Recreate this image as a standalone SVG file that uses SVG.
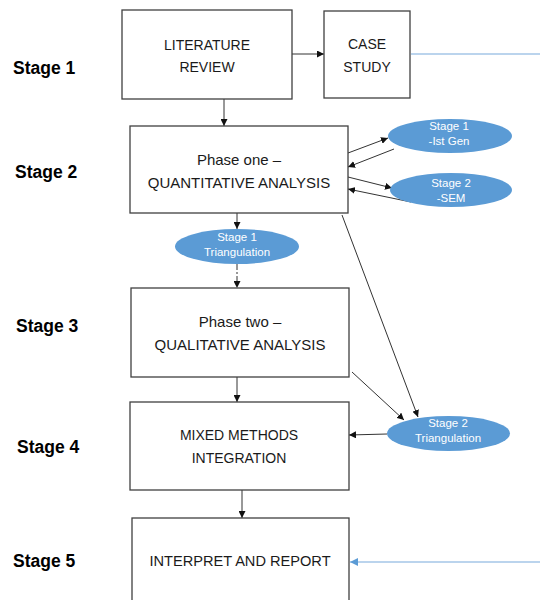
<svg xmlns="http://www.w3.org/2000/svg" width="540" height="600" viewBox="0 0 540 600">
  <defs>
    <marker id="arr" viewBox="0 0 10 10" refX="10" refY="5" markerWidth="7" markerHeight="7" markerUnits="userSpaceOnUse" orient="auto">
      <path d="M0,0 L10,5 L0,10 z" fill="#111"/>
    </marker>
    <marker id="arrBlue" viewBox="0 0 10 10" refX="10" refY="5" markerWidth="8" markerHeight="8" markerUnits="userSpaceOnUse" orient="auto">
      <path d="M0,0 L10,5 L0,10 z" fill="#5b9bd5"/>
    </marker>
    <style>
      .box { fill: #fff; stroke: #404040; stroke-width: 1.3; }
      .lbl { font-family: "Liberation Sans", Arial, sans-serif; font-size: 14px; fill: #1a1a1a; text-anchor: middle; }
      .lbl15 { font-size: 15px; }
      .stage { font-family: "Liberation Sans", Arial, sans-serif; font-size: 17.5px; font-weight: bold; fill: #000; }
      .ell { fill: #5b9bd5; stroke: none; }
      .etxt { font-family: "Liberation Sans", Arial, sans-serif; font-size: 11.5px; fill: #fff; text-anchor: middle; }
      .con { stroke: #333; stroke-width: 1; fill: none; }
      .blue { stroke: #79a9dc; stroke-width: 1.2; fill: none; }
    </style>
  </defs>

  <rect width="540" height="600" fill="#fff"/>

  <!-- stage labels -->
  <g id="stage-labels">
    <text class="stage" x="13" y="74">Stage 1</text>
    <text class="stage" x="15" y="178">Stage 2</text>
    <text class="stage" x="16" y="332">Stage 3</text>
    <text class="stage" x="17" y="453">Stage 4</text>
    <text class="stage" x="13" y="567">Stage 5</text>
  </g>

  <!-- connectors -->
  <g id="connectors">
    <line class="con" x1="292" y1="54" x2="324" y2="54" marker-end="url(#arr)"/>
    <line class="con" x1="224" y1="99" x2="224" y2="126" marker-end="url(#arr)"/>
    <line class="blue" x1="411" y1="54" x2="540" y2="54"/>

    <line class="con" x1="348" y1="153" x2="388" y2="138" marker-end="url(#arr)"/>
    <line class="con" x1="394" y1="149" x2="348" y2="167" marker-end="url(#arr)"/>
    <line class="con" x1="348" y1="177" x2="392" y2="188" marker-end="url(#arr)"/>
    <line class="con" x1="411" y1="202" x2="348" y2="189" marker-end="url(#arr)"/>

    <line class="con" x1="237" y1="213" x2="237" y2="229" marker-end="url(#arr)"/>
    <line class="con" x1="237" y1="264" x2="237" y2="288" stroke-dasharray="6 2 2 2" marker-end="url(#arr)"/>

    <line class="con" x1="342" y1="215" x2="418" y2="417" marker-end="url(#arr)"/>
    <line class="con" x1="352" y1="372" x2="404" y2="420" marker-end="url(#arr)"/>
    <line class="con" x1="237" y1="377" x2="237" y2="402" marker-end="url(#arr)"/>
    <line class="con" x1="387" y1="434" x2="349" y2="435" marker-end="url(#arr)"/>
    <line class="con" x1="242" y1="490" x2="242" y2="518" marker-end="url(#arr)"/>

    <line class="blue" x1="540" y1="562" x2="350" y2="562" marker-end="url(#arrBlue)"/>
  </g>

  <!-- process boxes -->
  <g id="literature-review">
    <rect class="box" x="122" y="10" width="170" height="89"/>
    <text class="lbl" x="207" y="50">LITERATURE</text>
    <text class="lbl" x="207" y="72">REVIEW</text>
  </g>

  <g id="case-study">
    <rect class="box" x="324" y="11" width="86" height="87"/>
    <text class="lbl" x="367" y="49">CASE</text>
    <text class="lbl" x="367" y="72">STUDY</text>
  </g>

  <g id="phase-one">
    <rect class="box" x="130" y="126" width="218" height="87"/>
    <text class="lbl lbl15" x="239" y="165">Phase one –</text>
    <text class="lbl lbl15" x="239" y="188">QUANTITATIVE ANALYSIS</text>
  </g>

  <g id="phase-two">
    <rect class="box" x="131" y="288" width="218" height="89"/>
    <text class="lbl lbl15" x="240" y="327">Phase two –</text>
    <text class="lbl lbl15" x="240" y="350">QUALITATIVE ANALYSIS</text>
  </g>

  <g id="mixed-methods">
    <rect class="box" x="130" y="402" width="219" height="88"/>
    <text class="lbl" x="239" y="440">MIXED METHODS</text>
    <text class="lbl" x="239" y="463">INTEGRATION</text>
  </g>

  <g id="interpret-report">
    <rect class="box" x="132" y="518" width="217" height="90"/>
    <text class="lbl" x="240" y="566" style="font-size:14.6px">INTERPRET AND REPORT</text>
  </g>

  <!-- analysis ellipses -->
  <g id="stage1-ist-gen">
    <ellipse class="ell" cx="450" cy="136" rx="62" ry="17"/>
    <text class="etxt" x="449" y="130">Stage 1</text>
    <text class="etxt" x="449" y="145">-Ist Gen</text>
  </g>

  <g id="stage2-sem">
    <ellipse class="ell" cx="451" cy="190" rx="61" ry="17"/>
    <text class="etxt" x="451" y="187">Stage 2</text>
    <text class="etxt" x="451" y="202">-SEM</text>
  </g>

  <g id="stage1-triangulation">
    <ellipse class="ell" cx="237" cy="246.5" rx="62" ry="17.5"/>
    <text class="etxt" x="237" y="241">Stage 1</text>
    <text class="etxt" x="237" y="256">Triangulation</text>
  </g>

  <g id="stage2-triangulation">
    <ellipse class="ell" cx="448.5" cy="433.5" rx="61.5" ry="17.5"/>
    <text class="etxt" x="448" y="427">Stage 2</text>
    <text class="etxt" x="448" y="442">Triangulation</text>
  </g>
</svg>
